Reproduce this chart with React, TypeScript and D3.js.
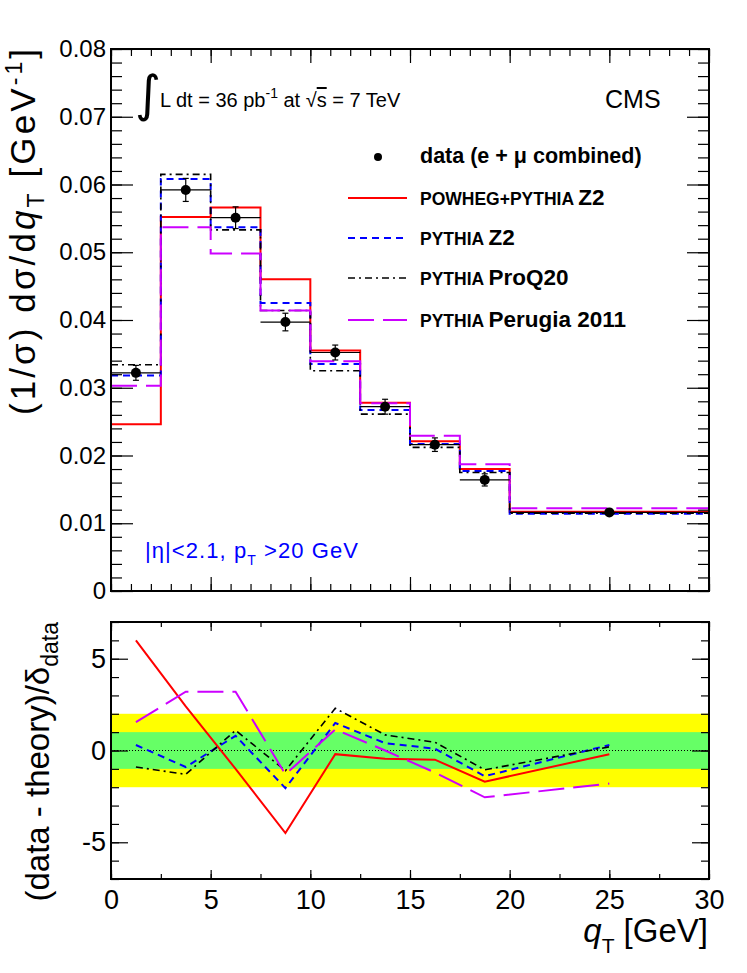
import { useEffect, useRef } from "react"
import * as d3 from "d3"

// bins in q_T [GeV]
const binEdges = [0, 2.5, 5, 7.5, 10, 12.5, 15, 17.5, 20, 30]
const binCenters = [1.25, 3.75, 6.25, 8.75, 11.25, 13.75, 16.25, 18.75, 25]

// normalised cross section (1/sigma) dsigma/dqT
const dataValues = [0.0322, 0.0592, 0.0551, 0.0397, 0.0352, 0.0272, 0.0216, 0.0164, 0.0116]
const dataErrors = [0.0011, 0.0017, 0.0016, 0.0013, 0.0011, 0.0011, 0.001, 0.0009, 0.0002]
const powhegZ2 = [0.0246, 0.0552, 0.0566, 0.046, 0.0355, 0.0278, 0.0221, 0.018, 0.0117]
const pythiaZ2 = [0.0318, 0.0608, 0.0537, 0.0425, 0.0335, 0.0267, 0.0217, 0.0177, 0.0114]
const pythiaProQ20 = [0.0334, 0.0615, 0.0533, 0.0414, 0.0325, 0.0261, 0.0212, 0.0175, 0.0115]
const pythiaPerugia = [0.0303, 0.0537, 0.0498, 0.0414, 0.0339, 0.0277, 0.0229, 0.0187, 0.0122]

// (data - theory)/delta_data
const pullPowheg = [6.0, 2.4, -1.0, -4.5, -0.2, -0.45, -0.5, -1.7, -0.2]
const pullZ2 = [0.3, -0.9, 0.8, -2.05, 1.5, 0.4, 0.1, -1.4, 0.3]
const pullProQ20 = [-0.9, -1.3, 1.1, -1.1, 2.3, 0.85, 0.45, -1.05, 0.2]
const pullPerugia = [1.55, 3.2, 3.2, -1.3, 1.15, 0.0, -1.2, -2.55, -1.8]

// ticks
const xMajorTicks = [0, 5, 10, 15, 20, 25, 30]
const xMinorTicksTop = d3.range(0, 31, 1)
const xMinorTicksBottom = d3.range(0, 30.1, 2.5)
const yMajorTicksTop = [0, 0.01, 0.02, 0.03, 0.04, 0.05, 0.06, 0.07, 0.08]
const yMinorTicksTop = d3.range(0, 0.0801, 0.002)
const yMajorTicksBottom = [-5, 0, 5]
const yMinorTicksBottom = d3.range(-7, 7.1, 1)

const FONT = "'Liberation Sans', Arial, Helvetica, sans-serif"

const series = [
  { name: "POWHEG+PYTHIA", tune: "Z2", values: powhegZ2, pulls: pullPowheg, color: "#ff0000", dash: null, width: 2 },
  { name: "PYTHIA", tune: "Z2", values: pythiaZ2, pulls: pullZ2, color: "#0000ff", dash: "7,5", width: 2 },
  { name: "PYTHIA", tune: "ProQ20", values: pythiaProQ20, pulls: pullProQ20, color: "#000000", dash: "7,4,2,4", width: 1.6 },
  { name: "PYTHIA", tune: "Perugia 2011", values: pythiaPerugia, pulls: pullPerugia, color: "#cc00ff", dash: "26,9", width: 2 },
]

export default function App() {
  const svgRef = useRef<SVGSVGElement>(null)

  useEffect(() => {
    const svg = d3.select(svgRef.current)
    svg.selectAll("*").remove()

    const left = 111
    const right = 709
    const x = d3.scaleLinear().domain([0, 30]).range([left, right])
    const yTop = d3.scaleLinear().domain([0, 0.08]).range([591, 49])
    const yBot = d3.scaleLinear().domain([-7, 7]).range([879, 622])

    const root = svg.append("g").attr("font-family", FONT)

    // axis helper: inward ticks on all four sides
    const styleAxis = (g: any, fontSize: number) => {
      g.select(".domain").remove()
      g.attr("font-family", FONT).attr("font-size", fontSize)
      g.selectAll("line").attr("stroke", "#000").attr("stroke-width", 1.2)
      g.selectAll("text").attr("fill", "#000")
    }

    const frameAxes = (y: any, top: number, bottom: number, opts: any) => {
      // bottom
      root.append("g").attr("transform", `translate(0,${bottom})`)
        .call(d3.axisBottom(x).tickValues(opts.xMinor).tickSize(-opts.xMinorLen).tickFormat(() => ""))
        .call((g: any) => styleAxis(g, 10))
      const xb = root.append("g").attr("transform", `translate(0,${bottom})`)
        .call(d3.axisBottom(x).tickValues(xMajorTicks).tickSize(-opts.xMajorLen).tickPadding(10)
          .tickFormat(opts.xLabels ? (d: any) => String(d) : () => ""))
      styleAxis(xb, 27)
      xb.selectAll("text").attr("dy", 0).attr("y", 909 - bottom)
      // top
      root.append("g").attr("transform", `translate(0,${top})`)
        .call(d3.axisTop(x).tickValues(opts.xMinor).tickSize(-opts.xMinorLen).tickFormat(() => ""))
        .call((g: any) => styleAxis(g, 10))
      root.append("g").attr("transform", `translate(0,${top})`)
        .call(d3.axisTop(x).tickValues(xMajorTicks).tickSize(-opts.xMajorLen).tickFormat(() => ""))
        .call((g: any) => styleAxis(g, 10))
      // left
      root.append("g").attr("transform", `translate(${left},0)`)
        .call(d3.axisLeft(y).tickValues(opts.yMinor).tickSize(-opts.yMinorLen).tickFormat(() => ""))
        .call((g: any) => styleAxis(g, 10))
      const yl = root.append("g").attr("transform", `translate(${left},0)`)
        .call(d3.axisLeft(y).tickValues(opts.yMajor).tickSize(-opts.yMajorLen).tickPadding(5).tickFormat(opts.yFormat))
      styleAxis(yl, opts.yFont)
      // right
      root.append("g").attr("transform", `translate(${right},0)`)
        .call(d3.axisRight(y).tickValues(opts.yMinor).tickSize(-opts.yMinorLen).tickFormat(() => ""))
        .call((g: any) => styleAxis(g, 10))
      root.append("g").attr("transform", `translate(${right},0)`)
        .call(d3.axisRight(y).tickValues(opts.yMajor).tickSize(-opts.yMajorLen).tickFormat(() => ""))
        .call((g: any) => styleAxis(g, 10))
      // frame
      root.append("rect")
        .attr("x", left).attr("y", top)
        .attr("width", right - left).attr("height", bottom - top)
        .attr("fill", "none").attr("stroke", "#000").attr("stroke-width", 2)
    }

    // ---------------- top panel ----------------
    const step = d3.line<[number, number]>()
      .x(d => x(d[0]))
      .y(d => yTop(d[1]))
      .curve(d3.curveStepAfter)

    series.forEach(s => {
      const pts: [number, number][] = binEdges.map((e, i) => [e, s.values[Math.min(i, s.values.length - 1)]])
      root.append("path")
        .attr("d", step(pts))
        .attr("fill", "none")
        .attr("stroke", s.color)
        .attr("stroke-width", s.width)
        .attr("stroke-dasharray", s.dash)
    })

    // data points with error bars
    const pts = root.append("g")
    dataValues.forEach((v, i) => {
      const cx = x(binCenters[i])
      pts.append("line")
        .attr("x1", x(binEdges[i])).attr("x2", x(binEdges[i + 1]))
        .attr("y1", yTop(v)).attr("y2", yTop(v))
        .attr("stroke", "#000").attr("stroke-width", 1.2)
      pts.append("line")
        .attr("x1", cx).attr("x2", cx)
        .attr("y1", yTop(v - dataErrors[i])).attr("y2", yTop(v + dataErrors[i]))
        .attr("stroke", "#000").attr("stroke-width", 1.2)
      ;[v - dataErrors[i], v + dataErrors[i]].forEach(e => {
        pts.append("line")
          .attr("x1", cx - 3).attr("x2", cx + 3)
          .attr("y1", yTop(e)).attr("y2", yTop(e))
          .attr("stroke", "#000").attr("stroke-width", 1.2)
      })
      pts.append("circle").attr("cx", cx).attr("cy", yTop(v)).attr("r", 5).attr("fill", "#000")
    })

    frameAxes(yTop, 49, 591, {
      xMinor: xMinorTicksTop, xMinorLen: 7, xMajorLen: 14, xLabels: false,
      yMinor: yMinorTicksTop, yMinorLen: 11, yMajor: yMajorTicksTop, yMajorLen: 22,
      yFont: 24, yFormat: (d: any) => (d === 0 ? "0" : d3.format(".2f")(d)),
    })

    // legend
    const lg = root.append("g")
    lg.append("circle").attr("cx", 378).attr("cy", 157).attr("r", 4).attr("fill", "#000")
    lg.append("text").attr("x", 420).attr("y", 163).attr("font-size", 21.5).attr("font-weight", "bold")
      .text("data (e + μ combined)")
    const legendY = [198, 238, 278, 320]
    series.forEach((s, i) => {
      lg.append("line")
        .attr("x1", 348).attr("x2", 407)
        .attr("y1", legendY[i]).attr("y2", legendY[i])
        .attr("stroke", s.color).attr("stroke-width", s.width)
        .attr("stroke-dasharray", s.dash)
      const t = lg.append("text").attr("x", 420).attr("y", legendY[i] + 7).attr("font-weight", "bold")
      t.append("tspan").attr("font-size", 17.5).text(s.name + " ")
      t.append("tspan").attr("font-size", 22.5).text(s.tune)
    })

    // luminosity label
    root.append("text").attr("x", 135).attr("y", 111)
      .attr("font-family", "'DejaVu Sans', sans-serif").attr("font-size", 50).text("∫")
    const lum = root.append("text").attr("x", 160).attr("y", 107).attr("font-size", 20)
    lum.append("tspan").text("L dt = 36 pb")
    lum.append("tspan").attr("font-size", 14).attr("dy", -9).text("-1")
    lum.append("tspan").attr("dy", 9).text(" at √")
    lum.append("tspan").style("text-decoration", "overline").text("s")
    lum.append("tspan").text(" = 7 TeV")

    root.append("text").attr("x", 605).attr("y", 108).attr("font-size", 25).text("CMS")

    const cut = root.append("text").attr("x", 145).attr("y", 558).attr("font-size", 22)
      .attr("fill", "#0000ff").attr("textLength", 213).attr("lengthAdjust", "spacing")
    cut.append("tspan").text("|η|<2.1, p")
    cut.append("tspan").attr("font-size", 14).attr("dy", 7).text("T")
    cut.append("tspan").attr("dy", -7).text(" >20 GeV")

    // y title (top)
    const yt = root.append("text")
      .attr("transform", "translate(35,49) rotate(-90)")
      .attr("text-anchor", "end").attr("font-size", 35)
      .attr("textLength", 366).attr("lengthAdjust", "spacing")
    yt.append("tspan").text("(1/σ) dσ/d")
    yt.append("tspan").attr("font-style", "italic").text("q")
    yt.append("tspan").attr("font-size", 23).attr("dy", 9).text("T")
    yt.append("tspan").attr("dy", -9).text(" [GeV")
    yt.append("tspan").attr("font-size", 23).attr("dy", -13).text("-1")
    yt.append("tspan").attr("dy", 13).text("]")

    // ---------------- bottom panel ----------------
    root.append("rect")
      .attr("x", left).attr("width", right - left)
      .attr("y", yBot(2)).attr("height", yBot(-2) - yBot(2))
      .attr("fill", "#ffff00")
    root.append("rect")
      .attr("x", left).attr("width", right - left)
      .attr("y", yBot(1)).attr("height", yBot(-1) - yBot(1))
      .attr("fill", "#66ff66")
    root.append("line")
      .attr("x1", left).attr("x2", right)
      .attr("y1", yBot(0)).attr("y2", yBot(0))
      .attr("stroke", "#000").attr("stroke-width", 1).attr("stroke-dasharray", "1,2")

    const pullLine = d3.line<number>()
      .x((_, i) => x(binCenters[i]))
      .y(d => yBot(d))

    series.forEach(s => {
      root.append("path")
        .attr("d", pullLine(s.pulls))
        .attr("fill", "none")
        .attr("stroke", s.color)
        .attr("stroke-width", s.width)
        .attr("stroke-dasharray", s.dash)
    })

    frameAxes(yBot, 622, 879, {
      xMinor: xMinorTicksBottom, xMinorLen: 5, xMajorLen: 9, xLabels: true,
      yMinor: yMinorTicksBottom, yMinorLen: 8, yMajor: yMajorTicksBottom, yMajorLen: 17,
      yFont: 27, yFormat: (d: any) => String(d),
    })

    // y title (bottom)
    const yb = root.append("text")
      .attr("transform", "translate(49,622) rotate(-90)")
      .attr("text-anchor", "end").attr("font-size", 33)
    yb.append("tspan").text("(data - theory)/δ")
    yb.append("tspan").attr("font-size", 23).attr("dy", 9).text("data")

    // x title
    const xt = root.append("text").attr("x", 708).attr("y", 942)
      .attr("text-anchor", "end").attr("font-size", 33)
    xt.append("tspan").attr("font-style", "italic").text("q")
    xt.append("tspan").attr("font-size", 21).attr("dy", 11).text("T")
    xt.append("tspan").attr("dy", -11).text(" [GeV]")
  }, [])

  return (
    <svg
      ref={svgRef}
      width={747}
      height={973}
      style={{ position: "absolute", left: 0, top: 0, background: "#fff" }}
    />
  )
}
